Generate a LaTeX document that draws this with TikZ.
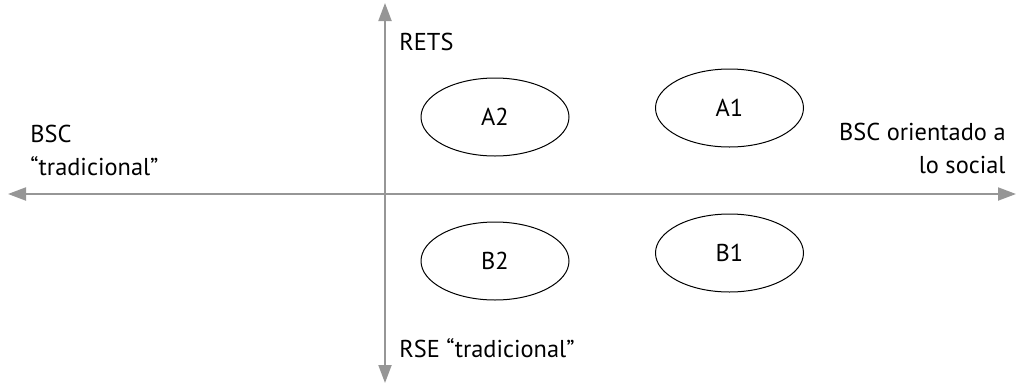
\documentclass[tikz,border=0pt]{standalone}
\usepackage{fontspec}
\setmainfont{PT Sans}
\usetikzlibrary{arrows.meta}
\usetikzlibrary{shapes.geometric}
\definecolor{axisgray}{RGB}{150,150,150}
\tikzset{
  axis/.style={line width=1pt,axisgray,{Triangle[length=9pt,width=6.5pt]}-{Triangle[length=9pt,width=6.5pt]}},
  zone/.style={ellipse,draw=black,line width=0.5pt,minimum width=74pt,minimum height=39pt,inner sep=0pt,font=\fontsize{12.2}{16.5}\selectfont},
  lbl/.style={inner sep=0pt,font=\fontsize{12.2}{16.5}\selectfont}
}
\begin{document}
\begin{tikzpicture}[x=0.5pt,y=-0.5pt]
    \useasboundingbox (0,0) rectangle (1018,386);
    % Axes
    \coordinate (W) at (8,194);
    \coordinate (E) at (1016,194);
    \coordinate (N) at (385,3);
    \coordinate (S) at (385,383);
    \draw[axis] (W) to (E);
    \draw[axis] (N) to (S);
    % Quadrants
    \node[zone] (A2) at (495,117) {A2};
    \node[zone] (A1) at (729.5,108) {A1};
    \node[zone] (B2) at (495,261) {B2};
    \node[zone] (B1) at (729.5,253) {B1};
    % Axis labels
    \node[lbl,anchor=base west] (rets) at (399,50) {RETS};
    \node[lbl,anchor=base west] (rse) at (399,357) {RSE “tradicional”};
    \node[lbl,anchor=base west,align=left] (bsct) at (30,175) {BSC\\“tradicional”};
    \node[lbl,anchor=base east,align=right] (bscs) at (1006,173) {BSC orientado a\\lo social};
\end{tikzpicture}
\end{document}
